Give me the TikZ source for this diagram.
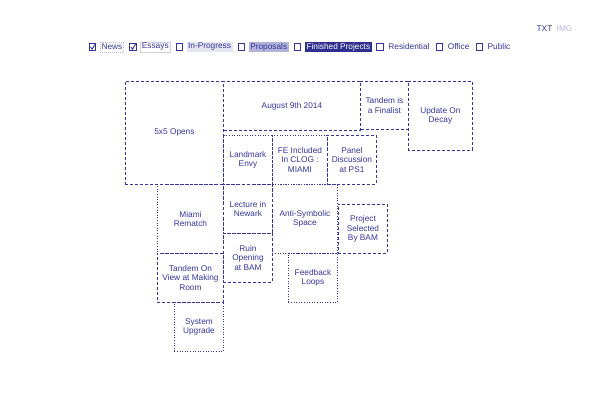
\documentclass[tikz,border=0pt]{standalone}
\usepackage{fontspec}
\setmainfont{Liberation Sans}
\usepackage{tikz}
\usetikzlibrary{positioning}
\definecolor{navy}{HTML}{35359B}
\definecolor{ink}{HTML}{2F2F8F}
\definecolor{lilac}{HTML}{E6E6F3}
\definecolor{mauve}{HTML}{B3B3DA}
\definecolor{haze}{HTML}{B9B9D9}
\tikzstyle{tile} = [rectangle, inner sep=0pt, anchor=north west, align=center, text=navy, draw=navy, line width=0.9pt, font=\fontsize{8.3}{9.6}\selectfont]
\tikzstyle{news} = [tile, dash pattern=on 3pt off 2pt]
\tikzstyle{essay} = [tile, dash pattern=on 1pt off 1.6pt]
\tikzstyle{chkbox} = [rectangle, draw=navy, fill=white, line width=0.9pt, minimum size=6.5pt, inner sep=0pt]
\tikzstyle{tag} = [rectangle, inner xsep=1.5pt, inner ysep=0pt, minimum height=10pt, text=navy, font=\fontsize{8.3}{9.6}\selectfont]
\tikzstyle{tick} = [navy, line width=0.9pt]

\begin{document}
\begin{tikzpicture}[x=1pt, y=-1pt]
    \useasboundingbox (0,0) rectangle (600,419);

    % view switch
    \node (txt) [tag, text=ink] at (544.5,29) {TXT};
    \node (img) [tag, text=haze, right=1pt of txt] {IMG};

    % filter row
    \node (newschk) [chkbox] at (92.5,47) {};
    \node (newstag) [tag, right=3.5pt of newschk, draw=haze, line width=0.7pt, dash pattern=on 1pt off 1pt] {News};
    \node (essaychk) [chkbox, right=5pt of newstag] {};
    \node (essaytag) [tag, right=3.5pt of essaychk, draw=haze!70, line width=0.7pt] {Essays};
    \node (progchk) [chkbox, right=5pt of essaytag] {};
    \node (progtag) [tag, right=3.5pt of progchk, fill=lilac] {In-Progress};
    \node (propchk) [chkbox, right=5pt of progtag] {};
    \node (proptag) [tag, right=3.5pt of propchk, fill=mauve] {Proposals};
    \node (donechk) [chkbox, right=5pt of proptag] {};
    \node (donetag) [tag, right=3.5pt of donechk, fill=ink, text=white] {Finished Projects};
    \node (homechk) [chkbox, right=4.5pt of donetag] {};
    \node (hometag) [tag, right=3pt of homechk] {Residential};
    \node (officechk) [chkbox, right=4.5pt of hometag] {};
    \node (officetag) [tag, right=3pt of officechk] {Office};
    \node (publicchk) [chkbox, right=4.5pt of officetag] {};
    \node (publictag) [tag, right=3pt of publicchk] {Public};

    \draw [tick] ([shift={(-2pt,0pt)}]newschk.center) -- ++(1.6,2.2) -- ++(3.8,-6.2);
    \draw [tick] ([shift={(-2pt,0pt)}]essaychk.center) -- ++(1.6,2.2) -- ++(3.8,-6.2);

    % tiles
    \node (opens) [news, minimum width=98pt, minimum height=103pt] at (125,81) {5x5 Opens};
    \node (august) [news, dash phase=4pt, minimum width=137pt, minimum height=49pt] at (223,81) {August 9th 2014};
    \node (finalist) [news, dash phase=4pt, minimum width=48pt, minimum height=48pt] at (360,81) {Tandem is\\a Finalist};
    \node (decay) [news, dash phase=1pt, minimum width=64pt, minimum height=69pt] at (408,81) {Update On\\Decay};
    \node (landmark) [essay, minimum width=49pt, minimum height=49pt] at (223,135) {Landmark\\Envy};
    \node (clog) [essay, minimum width=55pt, minimum height=49pt] at (272,135) {FE Included\\In CLOG :\\MIAMI};
    \node (panel) [news, minimum width=49pt, minimum height=49pt] at (327,135) {Panel\\Discussion\\at PS1};
    \node (makingroom) [news, minimum width=66pt, minimum height=49pt] at (157,253) {Tandem On\\View at Making\\Room};
    \node (rematch) [essay, minimum width=66pt, minimum height=69pt] at (157,184) {Miami\\Rematch};
    \node (newark) [news, minimum width=49pt, minimum height=49pt] at (223,184) {Lecture in\\Newark};
    \node (ruin) [news, minimum width=49pt, minimum height=49pt] at (223,233) {Ruin\\Opening\\at BAM};
    \node (antisym) [essay, minimum width=65pt, minimum height=69pt] at (272,184) {Anti-Symbolic\\Space};
    \node (bam) [news, minimum width=49pt, minimum height=49pt] at (338,204) {Project\\Selected\\By BAM};
    \node (feedback) [essay, minimum width=49pt, minimum height=49pt] at (288,253) {Feedback\\Loops};
    \node (upgrade) [essay, minimum width=49pt, minimum height=49pt] at (174,302) {System\\Upgrade};

\end{tikzpicture}
\end{document}
